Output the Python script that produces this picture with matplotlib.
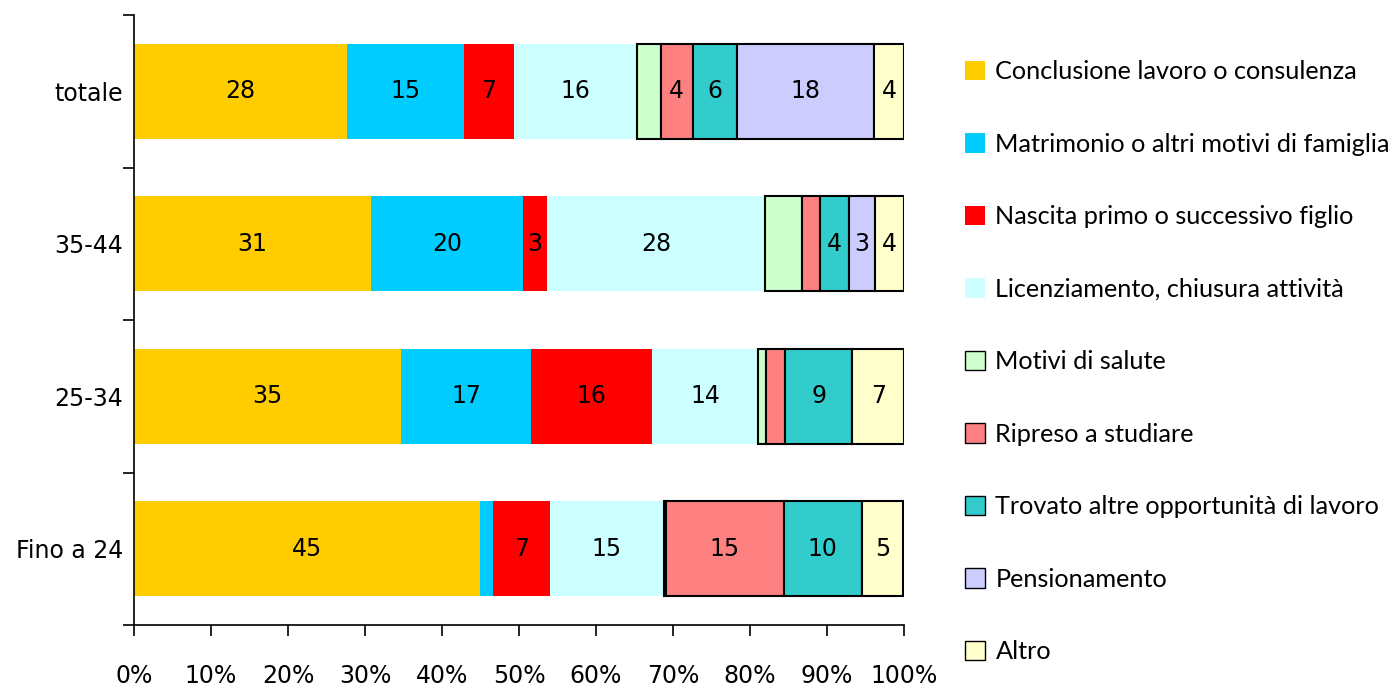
import matplotlib
matplotlib.use('Agg')
import matplotlib.pyplot as plt
from matplotlib.patches import Patch
import numpy as np

# Age groups, bottom to top
GROUPS = ['Fino a 24', '25-34', '35-44', 'totale']

SERIES = ['Conclusione lavoro o consulenza',
          'Matrimonio o altri motivi di famiglia',
          'Nascita primo o successivo figlio',
          'Licenziamento, chiusura attività',
          'Motivi di salute',
          'Ripreso a studiare',
          'Trovato altre opportunità di lavoro',
          'Pensionamento',
          'Altro']

# percentages per series, one value per group (Fino a 24, 25-34, 35-44, totale)
conclusione = [44.9, 34.7, 30.8, 27.6]
matrimonio = [1.7, 16.9, 19.7, 15.2]
nascita = [7.4, 15.7, 3.1, 6.6]
licenziamento = [14.8, 13.8, 28.4, 15.9]
salute = [0.3, 1.0, 4.8, 3.1]
studiare = [15.3, 2.4, 2.3, 4.2]
opportunita = [10.1, 8.8, 3.8, 5.7]
pensionamento = [0.0, 0.0, 3.3, 17.8]
altro = [5.4, 6.7, 3.8, 3.9]

DATA = [conclusione, matrimonio, nascita, licenziamento, salute,
        studiare, opportunita, pensionamento, altro]
COLORS = ['#FFCC00', '#00CCFF', '#FF0000', '#CCFFFF', '#CCFFCC',
          '#FF8080', '#33CCCC', '#CCCCFF', '#FFFFCC']
EDGED = [False, False, False, False, True, True, True, True, True]
LABELLED = [True, True, True, True, False, True, True, True, True]

fig = plt.figure(figsize=(13.93, 6.86), dpi=100)
ax = fig.add_axes([134/1393, 1 - 625/686, 770/1393, 610/686])

y = np.arange(len(GROUPS))
left = np.zeros(len(GROUPS))
for vals, col, edged, lab in zip(DATA, COLORS, EDGED, LABELLED):
    vals = np.array(vals)
    if edged:
        bars = ax.barh(y, vals, left=left, height=0.625, color=col,
                       edgecolor='black', linewidth=1.5)
    else:
        bars = ax.barh(y, vals, left=left, height=0.625, color=col,
                       linewidth=0)
    if lab:
        labels = [('%d' % round(v)) if round(v) >= 3 else '' for v in vals]
        ax.bar_label(bars, labels=labels, label_type='center',
                     fontsize=17, color='black')
    left += vals

ax.set_xlim(0, 100)
ax.set_ylim(-0.5, 3.5)
ax.set_xticks(np.arange(0, 101, 10))
ax.set_xticklabels(['%d%%' % v for v in range(0, 101, 10)], fontsize=17)
ax.set_yticks(np.arange(-0.5, 3.6, 1.0))
ax.set_yticklabels([])
ax.set_yticks(y, minor=True)
ax.set_yticklabels(GROUPS, minor=True, fontsize=17)
ax.tick_params(axis='y', which='minor', length=0, pad=8)
ax.tick_params(axis='y', which='major', length=8, width=1.2, direction='out')
ax.tick_params(axis='x', length=8, width=1.2, direction='out', pad=20)
for s in ['top', 'right']:
    ax.spines[s].set_visible(False)
for s in ['left', 'bottom']:
    ax.spines[s].set_linewidth(1.2)

handles = []
for col, edged in zip(COLORS, EDGED):
    handles.append(Patch(facecolor=col, edgecolor='black' if edged else col,
                         linewidth=1.0 if edged else 0))
fig.legend(handles, SERIES, loc='upper left', bbox_to_anchor=(955/1393, 1 - 50/686),
           frameon=False, prop={'family': 'Lato', 'size': 18.2},
           handlelength=0.8, handleheight=0.8, handletextpad=0.4,
           labelspacing=1.96, borderaxespad=0)

fig.savefig('out.png', dpi=100)
